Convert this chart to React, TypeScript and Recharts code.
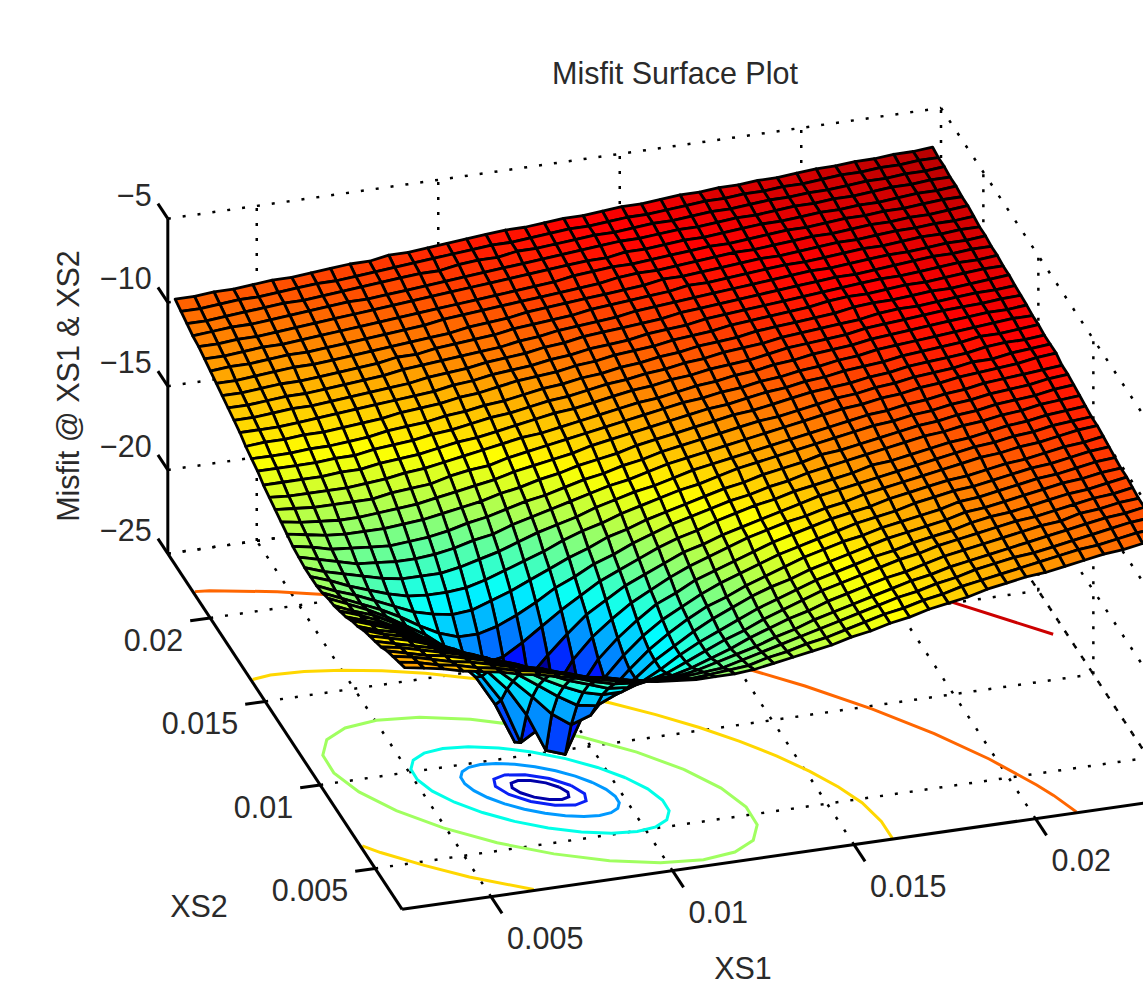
import React from 'react';
import { ScatterChart, Scatter, XAxis, YAxis } from 'recharts';

// grid of the surface, in units of 1e-3 (same values on XS1 and XS2)
const xsGrid = [2.65, 3.185, 3.72, 4.255, 4.79, 5.325, 5.86, 6.395, 6.93, 7.465, 8, 8.535, 9.07, 9.605, 10.14, 10.675, 11.21, 11.745, 12.28, 12.815, 13.35, 13.885, 14.42, 14.955, 15.49, 16.025, 16.56, 17.095, 17.63, 18.165, 18.7, 19.235, 19.77, 20.305, 20.84, 21.375, 21.91, 22.445, 22.98, 23.515];

// misfit, one row per XS2 value, one column per XS1 value
const misfitRows = [
  [-10.7,-10.9,-11.1,-11.4,-11.6,-11.8,-12.1,-12.3,-12.6,-12.8,-13.1,-13.3,-13.5,-13.7,-13.8,-13.9,-13.9,-13.9,-13.8,-13.6,-13.4,-13.2,-13.0,-12.7,-12.5,-12.2,-12.0,-11.7,-11.5,-11.3,-11.0,-10.8,-10.6,-10.5,-10.3,-10.1,-9.9,-9.8,-9.6,-9.4],
  [-10.9,-11.1,-11.4,-11.6,-11.9,-12.1,-12.4,-12.6,-12.9,-13.2,-13.5,-13.7,-14.0,-14.2,-14.3,-14.4,-14.3,-14.2,-14.1,-13.8,-13.6,-13.3,-13.1,-12.8,-12.5,-12.2,-12.0,-11.7,-11.5,-11.2,-11.0,-10.8,-10.6,-10.4,-10.2,-10.0,-9.9,-9.7,-9.5,-9.4],
  [-11.1,-11.3,-11.6,-11.9,-12.1,-12.4,-12.7,-13.0,-13.3,-13.6,-14.0,-14.2,-14.5,-14.7,-14.8,-14.8,-14.7,-14.6,-14.3,-14.0,-13.7,-13.4,-13.1,-12.8,-12.5,-12.2,-11.9,-11.7,-11.4,-11.2,-10.9,-10.7,-10.5,-10.4,-10.2,-10.0,-9.8,-9.6,-9.4,-9.3],
  [-11.3,-11.6,-11.9,-12.1,-12.4,-12.7,-13.1,-13.4,-13.7,-14.1,-14.5,-14.8,-15.1,-15.3,-15.3,-15.3,-15.1,-14.8,-14.5,-14.2,-13.8,-13.5,-13.1,-12.8,-12.5,-12.2,-11.9,-11.6,-11.4,-11.1,-10.9,-10.7,-10.5,-10.3,-10.1,-9.9,-9.7,-9.5,-9.4,-9.2],
  [-11.6,-11.8,-12.1,-12.4,-12.7,-13.1,-13.4,-13.8,-14.3,-14.7,-15.1,-15.5,-15.8,-15.9,-15.9,-15.8,-15.5,-15.1,-14.7,-14.2,-13.8,-13.4,-13.1,-12.7,-12.4,-12.1,-11.8,-11.6,-11.3,-11.0,-10.8,-10.6,-10.4,-10.2,-10.0,-9.9,-9.6,-9.5,-9.3,-9.2],
  [-11.8,-12.1,-12.4,-12.7,-13.1,-13.4,-13.9,-14.3,-14.8,-15.3,-15.8,-16.2,-16.6,-16.7,-16.5,-16.2,-15.7,-15.2,-14.7,-14.3,-13.8,-13.4,-13.0,-12.6,-12.3,-12.0,-11.7,-11.4,-11.2,-10.9,-10.7,-10.5,-10.3,-10.1,-10.0,-9.8,-9.6,-9.4,-9.3,-9.1],
  [-12.0,-12.3,-12.6,-13.0,-13.4,-13.9,-14.3,-14.9,-15.4,-16.1,-16.7,-17.2,-17.5,-17.5,-17.1,-16.5,-15.8,-15.2,-14.7,-14.2,-13.7,-13.3,-12.9,-12.5,-12.2,-11.9,-11.6,-11.4,-11.1,-10.9,-10.7,-10.4,-10.2,-10.1,-9.9,-9.7,-9.5,-9.4,-9.2,-9.0],
  [-12.2,-12.6,-12.9,-13.3,-13.8,-14.3,-14.8,-15.5,-16.2,-17.0,-17.8,-18.5,-18.7,-18.2,-17.4,-16.5,-15.8,-15.1,-14.5,-14.0,-13.5,-13.1,-12.8,-12.4,-12.1,-11.8,-11.5,-11.2,-11.0,-10.8,-10.6,-10.3,-10.2,-10.0,-9.8,-9.6,-9.4,-9.3,-9.1,-9.0],
  [-12.5,-12.9,-13.2,-13.7,-14.2,-14.7,-15.4,-16.1,-17.1,-18.2,-19.4,-20.2,-19.8,-18.5,-17.4,-16.4,-15.6,-14.9,-14.3,-13.9,-13.4,-13.0,-12.6,-12.2,-11.9,-11.6,-11.4,-11.1,-10.9,-10.7,-10.5,-10.2,-10.1,-9.9,-9.7,-9.5,-9.4,-9.2,-9.0,-8.9],
  [-12.7,-13.1,-13.5,-14.0,-14.6,-15.2,-16.0,-16.9,-18.1,-19.8,-22.1,-22.5,-20.1,-18.3,-17.1,-16.1,-15.3,-14.7,-14.1,-13.6,-13.2,-12.8,-12.4,-12.1,-11.8,-11.5,-11.2,-11.0,-10.8,-10.5,-10.3,-10.1,-10.0,-9.8,-9.6,-9.4,-9.3,-9.1,-8.9,-8.8],
  [-13.0,-13.4,-13.8,-14.4,-14.9,-15.7,-16.6,-17.7,-19.3,-22.0,-21.3,-22.0,-19.3,-17.7,-16.6,-15.7,-14.9,-14.4,-13.8,-13.4,-13.0,-12.6,-12.2,-11.9,-11.6,-11.3,-11.1,-10.9,-10.6,-10.4,-10.2,-10.0,-9.9,-9.7,-9.5,-9.4,-9.2,-9.0,-8.9,-8.7],
  [-13.2,-13.6,-14.1,-14.7,-15.3,-16.1,-17.1,-18.3,-20.1,-22.5,-22.1,-19.8,-18.1,-16.9,-16.0,-15.2,-14.6,-14.0,-13.5,-13.1,-12.7,-12.3,-12.0,-11.7,-11.5,-11.2,-11.0,-10.7,-10.5,-10.3,-10.1,-9.9,-9.7,-9.5,-9.4,-9.2,-9.1,-8.9,-8.7,-8.6],
  [-13.4,-13.9,-14.3,-14.9,-15.6,-16.4,-17.4,-18.5,-19.8,-20.2,-19.4,-18.2,-17.1,-16.1,-15.4,-14.7,-14.2,-13.7,-13.2,-12.9,-12.5,-12.2,-11.9,-11.6,-11.3,-11.0,-10.8,-10.6,-10.4,-10.2,-10.0,-9.8,-9.6,-9.4,-9.3,-9.1,-9.0,-8.8,-8.7,-8.6],
  [-13.5,-14.0,-14.5,-15.1,-15.8,-16.5,-17.4,-18.2,-18.7,-18.5,-17.8,-17.0,-16.2,-15.5,-14.8,-14.3,-13.8,-13.3,-12.9,-12.6,-12.2,-11.9,-11.6,-11.4,-11.1,-10.9,-10.7,-10.5,-10.2,-10.1,-9.9,-9.7,-9.5,-9.4,-9.2,-9.0,-8.9,-8.7,-8.6,-8.5],
  [-13.7,-14.2,-14.7,-15.2,-15.8,-16.5,-17.1,-17.5,-17.5,-17.2,-16.7,-16.1,-15.4,-14.9,-14.3,-13.9,-13.4,-13.0,-12.6,-12.3,-12.0,-11.7,-11.5,-11.2,-11.0,-10.7,-10.5,-10.3,-10.1,-9.9,-9.7,-9.5,-9.4,-9.2,-9.1,-8.9,-8.8,-8.6,-8.5,-8.4],
  [-13.8,-14.3,-14.7,-15.2,-15.7,-16.2,-16.5,-16.7,-16.6,-16.2,-15.8,-15.3,-14.8,-14.3,-13.9,-13.4,-13.1,-12.7,-12.4,-12.1,-11.8,-11.5,-11.3,-11.0,-10.8,-10.6,-10.3,-10.2,-10.0,-9.8,-9.6,-9.4,-9.3,-9.1,-9.0,-8.8,-8.7,-8.6,-8.4,-8.3],
  [-13.8,-14.2,-14.7,-15.1,-15.5,-15.8,-15.9,-15.9,-15.8,-15.5,-15.1,-14.7,-14.3,-13.8,-13.4,-13.1,-12.7,-12.4,-12.1,-11.8,-11.6,-11.3,-11.0,-10.8,-10.6,-10.4,-10.2,-10.0,-9.8,-9.6,-9.5,-9.3,-9.2,-9.0,-8.9,-8.7,-8.6,-8.5,-8.3,-8.2],
  [-13.8,-14.2,-14.5,-14.8,-15.1,-15.3,-15.3,-15.3,-15.1,-14.8,-14.5,-14.1,-13.7,-13.4,-13.1,-12.7,-12.4,-12.1,-11.9,-11.6,-11.3,-11.1,-10.9,-10.7,-10.5,-10.3,-10.1,-9.9,-9.7,-9.5,-9.4,-9.2,-9.1,-8.9,-8.8,-8.6,-8.5,-8.4,-8.3,-8.2],
  [-13.7,-14.0,-14.3,-14.6,-14.7,-14.8,-14.8,-14.7,-14.5,-14.2,-14.0,-13.6,-13.3,-13.0,-12.7,-12.4,-12.1,-11.9,-11.6,-11.3,-11.1,-10.9,-10.7,-10.5,-10.3,-10.1,-9.9,-9.7,-9.5,-9.4,-9.2,-9.1,-8.9,-8.8,-8.6,-8.5,-8.4,-8.3,-8.1,-8.0],
  [-13.6,-13.8,-14.1,-14.2,-14.3,-14.4,-14.3,-14.2,-14.0,-13.7,-13.5,-13.2,-12.9,-12.7,-12.4,-12.1,-11.9,-11.6,-11.4,-11.1,-10.9,-10.7,-10.5,-10.3,-10.1,-10.0,-9.8,-9.6,-9.4,-9.3,-9.1,-9.0,-8.8,-8.7,-8.6,-8.4,-8.4,-8.2,-8.1,-8.0],
  [-13.4,-13.6,-13.8,-13.9,-13.9,-13.9,-13.8,-13.7,-13.5,-13.3,-13.1,-12.8,-12.6,-12.3,-12.1,-11.8,-11.6,-11.4,-11.1,-10.9,-10.7,-10.5,-10.3,-10.1,-10.0,-9.8,-9.6,-9.4,-9.3,-9.2,-9.0,-8.9,-8.7,-8.6,-8.5,-8.4,-8.2,-8.1,-8.1,-8.0],
  [-13.2,-13.4,-13.5,-13.6,-13.6,-13.5,-13.4,-13.3,-13.1,-12.9,-12.7,-12.5,-12.2,-12.0,-11.8,-11.6,-11.3,-11.1,-10.9,-10.7,-10.5,-10.3,-10.1,-10.0,-9.8,-9.6,-9.5,-9.3,-9.2,-9.0,-8.9,-8.8,-8.6,-8.5,-8.4,-8.3,-8.1,-8.1,-8.0,-7.9],
  [-13.0,-13.1,-13.2,-13.2,-13.2,-13.2,-13.0,-12.9,-12.8,-12.5,-12.3,-12.2,-11.9,-11.7,-11.5,-11.3,-11.1,-10.9,-10.7,-10.5,-10.3,-10.1,-10.0,-9.8,-9.7,-9.5,-9.4,-9.2,-9.1,-8.9,-8.8,-8.6,-8.5,-8.4,-8.3,-8.2,-8.1,-8.0,-7.9,-7.9],
  [-12.8,-12.9,-12.9,-12.9,-12.9,-12.8,-12.7,-12.5,-12.4,-12.2,-12.0,-11.8,-11.6,-11.4,-11.3,-11.1,-10.9,-10.7,-10.5,-10.3,-10.2,-10.0,-9.8,-9.7,-9.5,-9.4,-9.2,-9.1,-8.9,-8.8,-8.7,-8.5,-8.4,-8.3,-8.2,-8.1,-8.0,-7.9,-7.9,-7.8],
  [-12.6,-12.6,-12.6,-12.6,-12.5,-12.5,-12.3,-12.2,-12.1,-11.9,-11.7,-11.6,-11.4,-11.2,-11.0,-10.8,-10.7,-10.5,-10.3,-10.1,-10.0,-9.8,-9.7,-9.5,-9.4,-9.3,-9.1,-8.9,-8.8,-8.7,-8.6,-8.4,-8.3,-8.2,-8.1,-8.0,-7.95,-7.9,-7.8,-7.75],
  [-12.3,-12.3,-12.3,-12.3,-12.2,-12.2,-12.0,-11.9,-11.8,-11.6,-11.5,-11.3,-11.1,-11.0,-10.8,-10.6,-10.5,-10.3,-10.1,-10.0,-9.8,-9.7,-9.5,-9.4,-9.2,-9.1,-9.0,-8.8,-8.7,-8.6,-8.5,-8.4,-8.2,-8.1,-8.1,-8.0,-7.9,-7.8,-7.8,-7.7],
  [-12.1,-12.1,-12.1,-12.0,-12.0,-11.9,-11.8,-11.6,-11.5,-11.4,-11.2,-11.1,-10.9,-10.8,-10.6,-10.4,-10.3,-10.1,-10.0,-9.8,-9.7,-9.5,-9.4,-9.2,-9.1,-9.0,-8.8,-8.7,-8.6,-8.5,-8.4,-8.2,-8.1,-8.1,-8.0,-7.9,-7.9,-7.8,-7.7,-7.6],
  [-11.9,-11.8,-11.8,-11.7,-11.7,-11.6,-11.5,-11.4,-11.2,-11.1,-11.0,-10.8,-10.7,-10.5,-10.3,-10.2,-10.1,-9.9,-9.8,-9.6,-9.5,-9.4,-9.2,-9.1,-9.0,-8.8,-8.7,-8.6,-8.5,-8.4,-8.2,-8.1,-8.1,-8.0,-7.9,-7.9,-7.8,-7.7,-7.6,-7.6],
  [-11.6,-11.6,-11.6,-11.5,-11.4,-11.3,-11.2,-11.1,-11.0,-10.9,-10.8,-10.6,-10.5,-10.3,-10.2,-10.1,-9.9,-9.8,-9.6,-9.5,-9.4,-9.2,-9.1,-9.0,-8.8,-8.7,-8.6,-8.5,-8.4,-8.3,-8.2,-8.1,-8.0,-7.9,-7.9,-7.8,-7.7,-7.6,-7.6,-7.5],
  [-11.4,-11.4,-11.3,-11.2,-11.2,-11.1,-11.0,-10.9,-10.8,-10.7,-10.5,-10.4,-10.3,-10.1,-10.0,-9.9,-9.7,-9.6,-9.4,-9.3,-9.2,-9.1,-9.0,-8.8,-8.7,-8.6,-8.5,-8.4,-8.3,-8.2,-8.1,-8.0,-8.0,-7.9,-7.8,-7.7,-7.6,-7.6,-7.5,-7.5],
  [-11.2,-11.2,-11.1,-11.0,-11.0,-10.9,-10.8,-10.7,-10.6,-10.4,-10.3,-10.2,-10.1,-10.0,-9.9,-9.7,-9.6,-9.4,-9.3,-9.2,-9.1,-8.9,-8.8,-8.7,-8.6,-8.5,-8.4,-8.3,-8.2,-8.1,-8.0,-8.0,-7.9,-7.8,-7.7,-7.7,-7.6,-7.5,-7.5,-7.4],
  [-11.0,-11.0,-10.9,-10.8,-10.8,-10.7,-10.6,-10.5,-10.4,-10.2,-10.2,-10.0,-9.9,-9.8,-9.7,-9.5,-9.4,-9.3,-9.2,-9.0,-8.9,-8.8,-8.7,-8.6,-8.4,-8.4,-8.3,-8.2,-8.1,-8.0,-8.0,-7.9,-7.8,-7.7,-7.7,-7.6,-7.5,-7.5,-7.4,-7.4],
  [-10.8,-10.8,-10.7,-10.6,-10.5,-10.5,-10.4,-10.3,-10.2,-10.1,-10.0,-9.9,-9.8,-9.6,-9.5,-9.4,-9.2,-9.1,-9.0,-8.9,-8.8,-8.7,-8.6,-8.4,-8.4,-8.3,-8.2,-8.1,-8.0,-8.0,-7.9,-7.8,-7.7,-7.7,-7.6,-7.5,-7.5,-7.4,-7.4,-7.3],
  [-10.6,-10.5,-10.5,-10.4,-10.3,-10.3,-10.2,-10.1,-10.0,-9.9,-9.8,-9.7,-9.5,-9.4,-9.3,-9.2,-9.1,-9.0,-8.9,-8.8,-8.7,-8.5,-8.4,-8.4,-8.3,-8.2,-8.1,-8.0,-8.0,-7.9,-7.8,-7.7,-7.7,-7.6,-7.5,-7.5,-7.4,-7.4,-7.3,-7.2],
  [-10.4,-10.4,-10.3,-10.2,-10.2,-10.1,-10.0,-9.9,-9.8,-9.7,-9.6,-9.5,-9.4,-9.3,-9.2,-9.1,-9.0,-8.9,-8.8,-8.6,-8.5,-8.4,-8.4,-8.3,-8.2,-8.1,-8.0,-8.0,-7.9,-7.8,-7.7,-7.7,-7.6,-7.5,-7.5,-7.4,-7.4,-7.3,-7.2,-7.2],
  [-10.2,-10.2,-10.1,-10.1,-10.0,-9.9,-9.8,-9.7,-9.6,-9.5,-9.4,-9.3,-9.2,-9.1,-9.0,-8.9,-8.8,-8.7,-8.6,-8.5,-8.4,-8.4,-8.2,-8.2,-8.1,-8.0,-8.0,-7.9,-7.8,-7.7,-7.7,-7.6,-7.5,-7.5,-7.4,-7.4,-7.3,-7.2,-7.2,-7.1],
  [-10.1,-10.0,-9.9,-9.9,-9.8,-9.7,-9.6,-9.5,-9.4,-9.4,-9.3,-9.2,-9.1,-9.0,-8.9,-8.8,-8.7,-8.6,-8.5,-8.4,-8.3,-8.2,-8.1,-8.1,-8.0,-7.9,-7.9,-7.8,-7.7,-7.7,-7.6,-7.5,-7.5,-7.4,-7.4,-7.3,-7.2,-7.2,-7.1,-7.1],
  [-9.9,-9.9,-9.8,-9.7,-9.6,-9.5,-9.5,-9.4,-9.3,-9.2,-9.1,-9.0,-8.9,-8.9,-8.7,-8.6,-8.6,-8.4,-8.4,-8.3,-8.2,-8.1,-8.1,-8.0,-7.9,-7.9,-7.8,-7.7,-7.7,-7.6,-7.5,-7.5,-7.4,-7.4,-7.3,-7.2,-7.2,-7.1,-7.1,-7.0],
  [-9.7,-9.7,-9.6,-9.5,-9.5,-9.4,-9.3,-9.2,-9.2,-9.1,-9.0,-8.9,-8.8,-8.7,-8.6,-8.5,-8.4,-8.4,-8.3,-8.2,-8.1,-8.1,-8.0,-7.9,-7.9,-7.8,-7.7,-7.6,-7.6,-7.5,-7.5,-7.4,-7.4,-7.3,-7.2,-7.2,-7.1,-7.1,-7.0,-7.0],
  [-9.5,-9.5,-9.4,-9.4,-9.3,-9.2,-9.2,-9.1,-9.0,-8.9,-8.9,-8.7,-8.7,-8.6,-8.5,-8.4,-8.3,-8.2,-8.2,-8.1,-8.0,-8.0,-7.9,-7.8,-7.8,-7.7,-7.6,-7.6,-7.5,-7.5,-7.4,-7.4,-7.3,-7.2,-7.2,-7.1,-7.1,-7.0,-7.0,-6.9],
];

// contour lines on the floor, [XS1, XS2] in units of 1e-3
const contourDark = [[8.535,8],[8.264,8.345],[7.922,8.597],[7.6,8.689],[7.387,8.597],[7.337,8.345],[7.465,8],[7.736,7.655],[8.078,7.403],[8.4,7.311],[8.613,7.403],[8.663,7.655],[8.535,8]];
const contourBlue = [[8.856,8],[8.422,8.552],[7.875,8.955],[7.36,9.102],[7.019,8.955],[6.939,8.552],[7.144,8],[7.578,7.448],[8.125,7.045],[8.64,6.898],[8.981,7.045],[9.061,7.448],[8.856,8]];
const contourSky = [[9.445,8],[9.118,8.481],[8.713,8.932],[8.259,9.315],[7.789,9.612],[7.333,9.796],[6.92,9.86],[6.585,9.796],[6.345,9.612],[6.215,9.315],[6.21,8.932],[6.326,8.481],[6.555,8],[6.882,7.519],[7.287,7.068],[7.741,6.685],[8.211,6.388],[8.667,6.204],[9.08,6.14],[9.415,6.204],[9.655,6.388],[9.785,6.685],[9.79,7.068],[9.674,7.519],[9.445,8]];
const contourCyan = [[10.354,8],[9.822,8.783],[9.162,9.518],[8.422,10.143],[7.657,10.627],[6.913,10.926],[6.24,11.032],[5.694,10.926],[5.303,10.627],[5.092,10.143],[5.083,9.518],[5.272,8.783],[5.646,8],[6.178,7.217],[6.838,6.482],[7.578,5.857],[8.343,5.373],[9.087,5.074],[9.76,4.968],[10.306,5.074],[10.697,5.373],[10.908,5.857],[10.917,6.482],[10.728,7.217],[10.354,8]];
const contourLime = [[11.959,8],[11.064,9.317],[9.954,10.553],[8.71,11.604],[7.423,12.418],[6.172,12.921],[5.04,13.099],[4.122,12.921],[3.464,12.418],[3.109,11.604],[3.094,10.553],[3.412,9.317],[4.041,8],[4.936,6.683],[6.046,5.447],[7.29,4.396],[8.577,3.582],[9.828,3.079],[10.96,2.901],[11.878,3.079],[12.536,3.582],[12.891,4.396],[12.906,5.447],[12.588,6.683],[11.959,8]];
const contourYellowUpper = [[2.6,16.3],[3.12,16.406],[4.025,16.328],[4.987,16.113],[6,15.76],[7.048,15.283],[8.111,14.664],[9.171,13.941],[10.213,13.111],[11.221,12.209],[12.164,11.218],[13.051,10.172],[13.835,9.097],[14.527,8],[15.1,6.903],[15.564,5.828],[15.897,4.782],[16.07,3.6],[16.07,2.6]];
const contourYellowLower = [[2.6,6.34],[2.949,5.828],[3.836,4.782],[4.779,3.791],[6.19,2.6]];
const contourOrange = [[2.6,21.56],[2.983,21.5],[4.67,20.91],[6.414,20.109],[8.2,19.1],[9.944,17.883],[11.68,16.5],[13.354,14.994],[14.93,13.35],[16.395,11.616],[17.71,9.824],[18.86,8],[19.82,6.176],[20.587,4.384],[20.84,3.68],[21.14,2.6]];
const contourRed = [[23.5,12.5],[20.64,16.12],[17.1,19.89]];

const contours = [
  { points: contourRed, color: '#cc0000' },
  { points: contourOrange, color: '#ff6600' },
  { points: contourYellowUpper, color: '#ffd700' },
  { points: contourYellowLower, color: '#ffd700' },
  { points: contourLime, color: '#a0ff60' },
  { points: contourCyan, color: '#00ffe8' },
  { points: contourSky, color: '#0099ff' },
  { points: contourBlue, color: '#0a20f5' },
  { points: contourDark, color: '#0000a8' },
];

const xsTicks = [5, 10, 15, 20];
const xsTickLabels = ['0.005', '0.01', '0.015', '0.02'];
const zTicks = [-5, -10, -15, -20, -25];
const zTickLabels = ['\u22125', '\u221210', '\u221215', '\u221220', '\u221225'];

const XS_MIN = 2.55;
const XS_MAX = 23.85;
const Z_MIN = -25;
const Z_MAX = -5;
const WIDTH = 1143;
const HEIGHT = 989;
const COLOR_LOW = -22.55;
const COLOR_HIGH = -6.05;

// fixed MATLAB-like view: plain linear projection onto the picture plane
const project = (xs1: number, xs2: number, z: number) => ({
  sx: 540 + 36.3 * (xs1 - 8) - 11 * (xs2 - 8),
  sy: 790 - 5.2 * (xs1 - 8) - 16.7 * (xs2 - 8) - 16.75 * (z - Z_MIN),
});

const jet = (value: number) => {
  const t = Math.min(1, Math.max(0, (value - COLOR_LOW) / (COLOR_HIGH - COLOR_LOW)));
  const ramp = (d: number) => Math.round(255 * Math.min(1, Math.max(0, 1.5 - Math.abs(4 * t - d))));
  return `rgb(${ramp(3)},${ramp(2)},${ramp(1)})`;
};

const surfaceData = misfitRows.flatMap((row, j) => row.map((z, i) => project(xsGrid[i], xsGrid[j], z)));

const drawSurface = ({ points }: any) => {
  const n = xsGrid.length;
  const cells = [];
  // far cells first, so that nearer ones paint over them
  for (let j = misfitRows.length - 2; j >= 0; j--) {
    for (let i = n - 2; i >= 0; i--) {
      const corners = [j * n + i, j * n + i + 1, (j + 1) * n + i + 1, (j + 1) * n + i].map((k) => points[k]);
      cells.push(
        <polygon
          key={`${j}-${i}`}
          points={corners.map((p: any) => `${p.x},${p.y}`).join(' ')}
          fill={jet(misfitRows[j][i])}
          stroke="#000"
          strokeWidth={2.8}
          strokeLinejoin="round"
        />,
      );
    }
  }
  return <g>{cells}</g>;
};

const noDot = () => <g />;

const dottedLines = [
  [project(XS_MIN, XS_MAX, Z_MIN), project(XS_MAX, XS_MAX, Z_MIN)],
  [project(XS_MAX, XS_MIN, Z_MIN), project(XS_MAX, XS_MAX, Z_MIN)],
  [project(XS_MAX, XS_MAX, Z_MIN), project(XS_MAX, XS_MAX, Z_MAX)],
  ...zTicks.flatMap((z) => [
    [project(XS_MIN, XS_MAX, z), project(XS_MAX, XS_MAX, z)],
    [project(XS_MAX, XS_MAX, z), project(XS_MAX, XS_MIN, z)],
  ]),
  ...xsTicks.flatMap((x) => [
    [project(x, XS_MIN, Z_MIN), project(x, XS_MAX, Z_MIN)],
    [project(x, XS_MAX, Z_MIN), project(x, XS_MAX, Z_MAX)],
    [project(XS_MIN, x, Z_MIN), project(XS_MAX, x, Z_MIN)],
    [project(XS_MAX, x, Z_MIN), project(XS_MAX, x, Z_MAX)],
  ]),
];

const solidLines = [
  [project(XS_MIN, XS_MIN, Z_MIN), project(XS_MAX, XS_MIN, Z_MIN)],
  [project(XS_MIN, XS_MIN, Z_MIN), project(XS_MIN, XS_MAX, Z_MIN)],
  [project(XS_MIN, XS_MAX, Z_MIN), project(XS_MIN, XS_MAX, Z_MAX)],
  ...xsTicks.flatMap((x) => [
    [project(x, XS_MIN, Z_MIN), project(x, XS_MIN - 1, Z_MIN)],
    [project(XS_MIN, x, Z_MIN), project(XS_MIN - 0.55, x, Z_MIN)],
  ]),
  ...zTicks.map((z) => [project(XS_MIN, XS_MAX, z), project(XS_MIN, XS_MAX + 0.9, z)]),
];

const at = (p: { sx: number; sy: number }, dx: number, dy: number) => ({ sx: p.sx + dx, sy: p.sy + dy });

const texts = [
  { sx: 675, sy: 73, label: 'Misfit Surface Plot', anchor: 'middle' },
  { sx: 68, sy: 386, label: 'Misfit @ XS1 & XS2', anchor: 'middle', rotate: -90 },
  { sx: 743, sy: 968, label: 'XS1', anchor: 'middle' },
  { sx: 199, sy: 906, label: 'XS2', anchor: 'middle' },
  ...zTicks.map((z, i) => ({ ...at(project(XS_MIN, XS_MAX, z), -16, -24), label: zTickLabels[i], anchor: 'end' })),
  ...xsTicks.map((x, i) => ({ ...at(project(x, XS_MIN, Z_MIN), 16, 41), label: xsTickLabels[i], anchor: 'start' })),
  ...xsTicks.map((x, i) => ({ ...at(project(XS_MIN, x, Z_MIN), -27, 22), label: xsTickLabels[i], anchor: 'end' })),
];

const drawText = ({ cx, cy, payload }: any) => (
  <text
    x={cx}
    y={cy}
    textAnchor={payload.anchor}
    dominantBaseline="central"
    fontFamily="'Liberation Sans', Arial, sans-serif"
    fontSize={30.5}
    fill="#2a2a2a"
    transform={payload.rotate ? `rotate(${payload.rotate} ${cx} ${cy})` : undefined}
  >
    {payload.label}
  </text>
);

export default function App() {
  return (
    <div style={{ position: 'absolute', left: 0, top: 0, width: WIDTH, height: HEIGHT, background: '#fff' }}>
      <ScatterChart width={WIDTH} height={HEIGHT} margin={{ top: 0, right: 0, bottom: 0, left: 0 }}>
        <XAxis type="number" dataKey="sx" domain={[0, WIDTH]} allowDataOverflow hide />
        <YAxis type="number" dataKey="sy" domain={[0, HEIGHT]} reversed allowDataOverflow hide />

        {dottedLines.map((points, i) => (
          <Scatter
            key={`dotted-${i}`}
            data={points}
            shape={noDot}
            line={{ stroke: '#000', strokeWidth: 2.5, strokeDasharray: '3 12' }}
            isAnimationActive={false}
          />
        ))}

        {contours.map((c, i) => (
          <Scatter
            key={`contour-${i}`}
            data={c.points.map(([x1, x2]) => project(x1, x2, Z_MIN))}
            shape={noDot}
            line={{ stroke: c.color, strokeWidth: 3 }}
            isAnimationActive={false}
          />
        ))}

        {solidLines.map((points, i) => (
          <Scatter
            key={`solid-${i}`}
            data={points}
            shape={noDot}
            line={{ stroke: '#000', strokeWidth: 3 }}
            isAnimationActive={false}
          />
        ))}

        <Scatter data={surfaceData} shape={noDot} line={drawSurface} isAnimationActive={false} />
        <Scatter data={texts} shape={drawText} isAnimationActive={false} />
      </ScatterChart>
    </div>
  );
}
